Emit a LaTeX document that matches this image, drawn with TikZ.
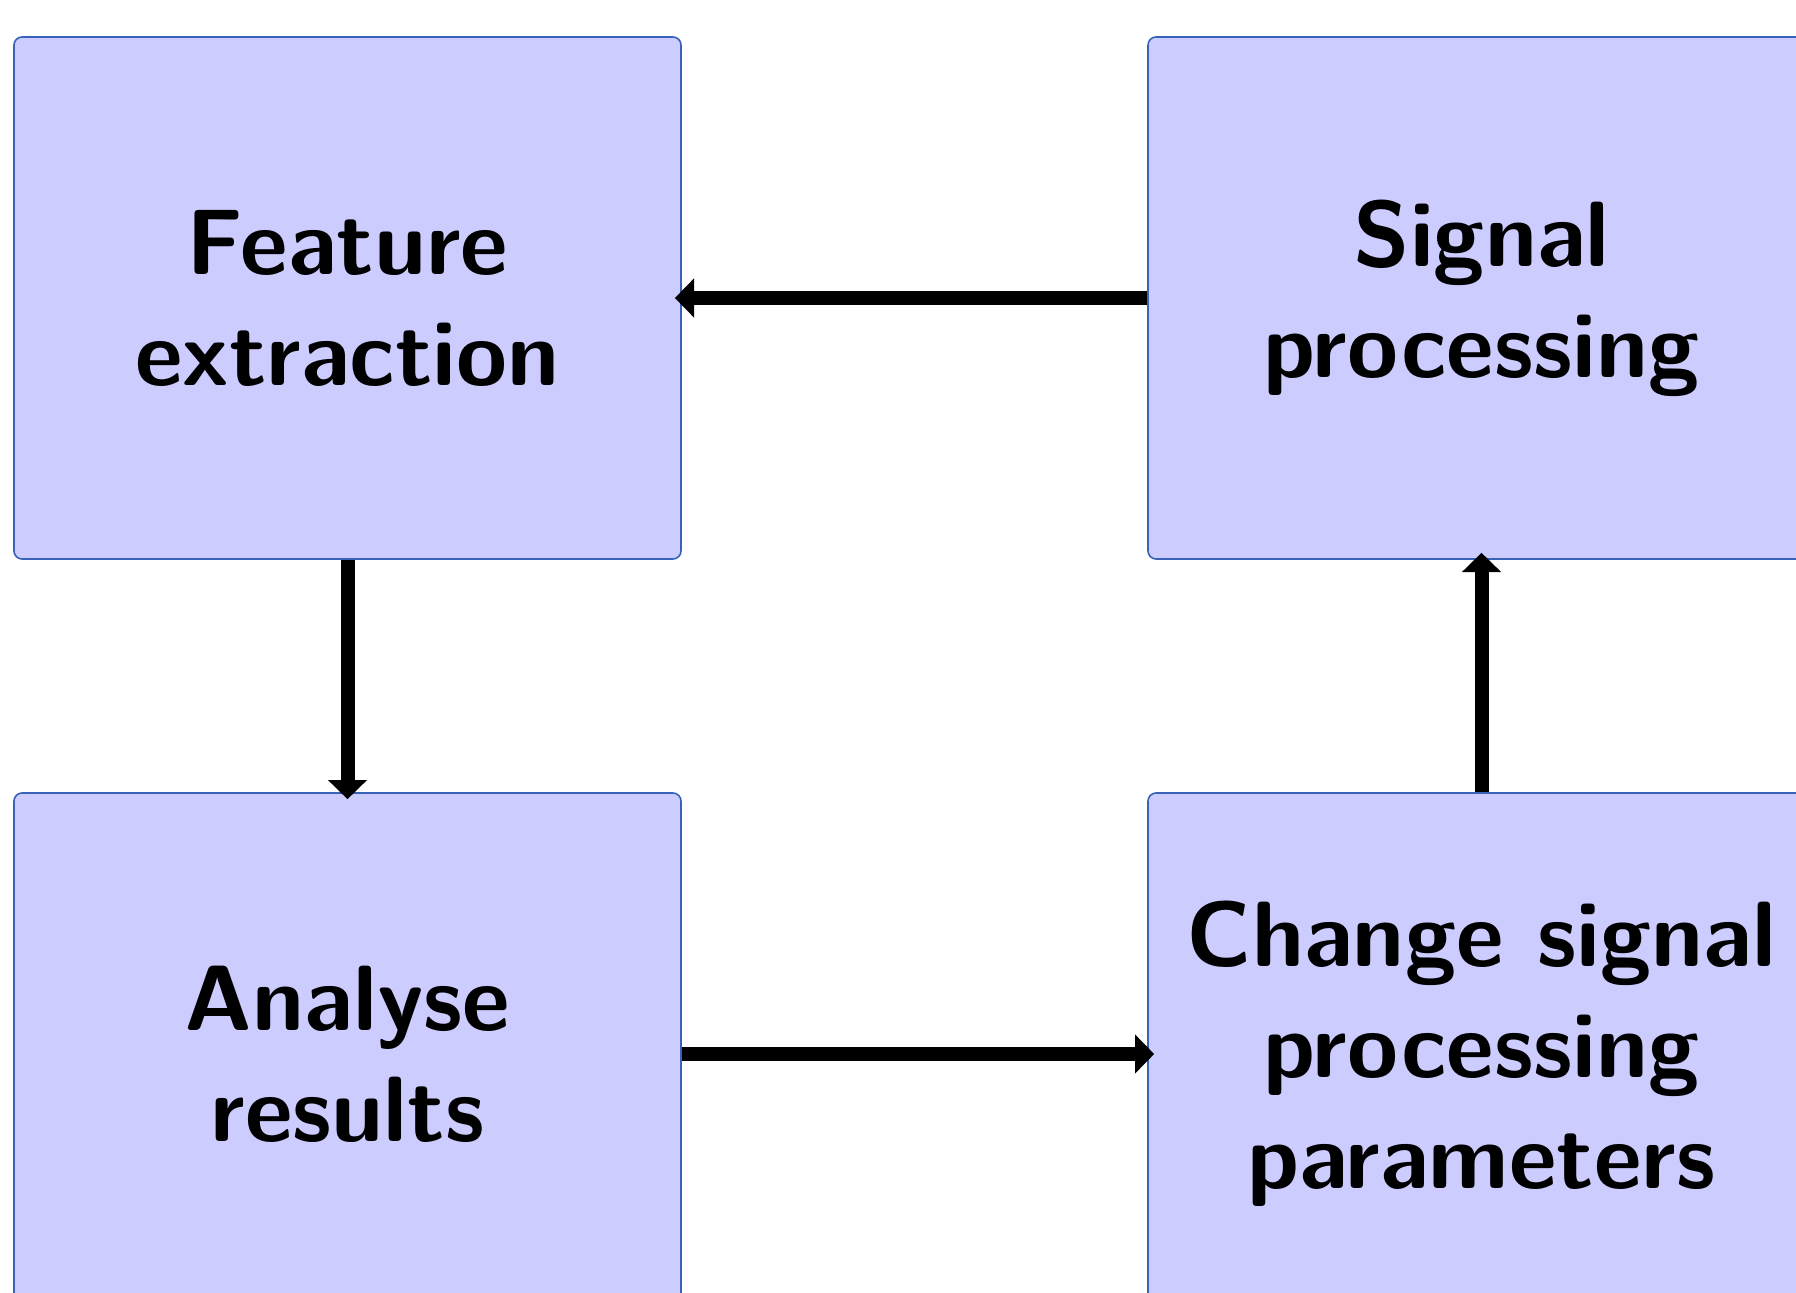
\documentclass[tikz,border=0pt]{standalone}
\usepackage{fontspec}
\usetikzlibrary{arrows.meta}
\definecolor{boxfill}{RGB}{204,204,255}
\definecolor{boxline}{RGB}{55,100,185}
\begin{document}
\begin{tikzpicture}[x=0.25pt,y=-0.25pt,
  stage/.style={draw=boxline, line width=0.4pt, fill=boxfill, rounded corners=2pt,
    minimum width=166.75pt, minimum height=130.5pt, align=center, inner sep=0pt,
    font=\sffamily\bfseries\fontsize{23.2}{27.75}\selectfont},
  flow/.style={line width=3.5pt, -{Triangle[length=4.8pt,width=9.5pt]}, shorten >=-1.75pt}]
\useasboundingbox (0,0) rectangle (1796,1293);
\node[stage] (fe) at (347.5,298) {Feature\\extraction};
\node[stage] (sp) at (1481.5,298) {Signal\\processing};
\node[stage] (ar) at (347.5,1054) {Analyse\\results};
\node[stage] (cp) at (1481.5,1054) {Change signal\\processing\\parameters};
\draw[flow] (sp.west) -- (fe.east);
\draw[flow] (fe.south) -- (ar.north);
\draw[flow] (ar.east) -- (cp.west);
\draw[flow] (cp.north) -- (sp.south);
\end{tikzpicture}
\end{document}
